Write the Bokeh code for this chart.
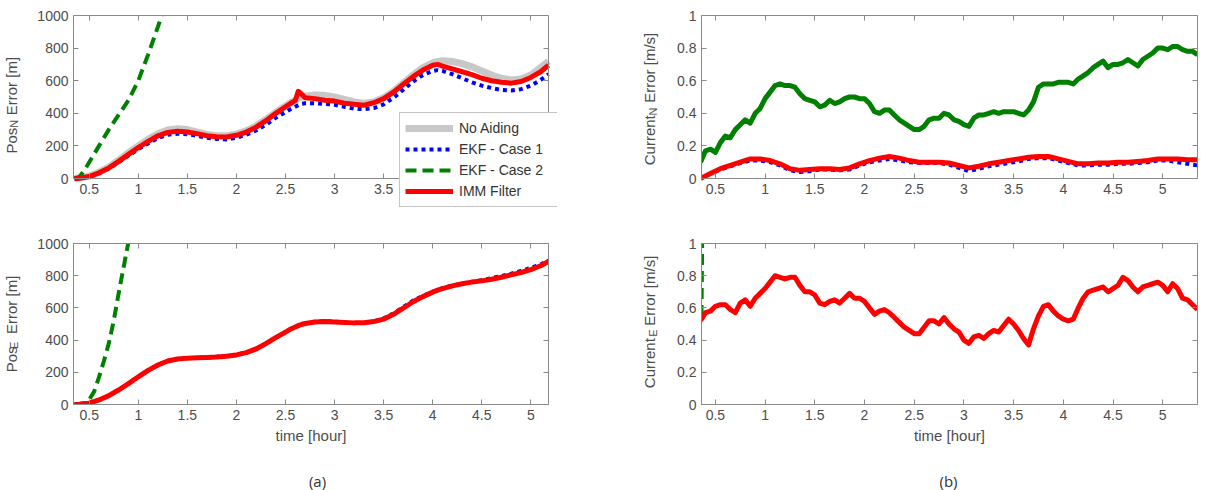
import numpy as np
from bokeh.plotting import figure
from bokeh.models import (FixedTicker, LinearAxis, Range1d, Legend, LegendItem,
                          CustomJSTickFormatter)
from bokeh.layouts import row, column
from bokeh.embed import file_html
from bokeh.resources import INLINE
from bokeh.core.properties import value

# ---------------- data ----------------
# Position error panels (a)
t_pos = [0.35, 0.4, 0.5, 0.6, 0.7, 0.8, 0.9, 1.0, 1.1, 1.2, 1.3, 1.4, 1.5, 1.6, 1.7, 1.8, 1.9,
         2.0, 2.1, 2.2, 2.3, 2.4, 2.5, 2.55, 2.6, 2.63, 2.66, 2.7, 2.8, 2.9, 3.0, 3.1, 3.2, 3.3,
         3.4, 3.5, 3.6, 3.7, 3.8, 3.9, 4.0, 4.05, 4.1, 4.2, 4.3, 4.4, 4.5, 4.6, 4.7, 4.8, 4.9,
         5.0, 5.1, 5.18]
posN_noaid = [0, 3, 14, 38, 70, 112, 158, 200, 240, 275, 298, 305, 300, 285, 270, 262, 262, 272,
              292, 322, 362, 405, 445, 465, 480, 490, 498, 505, 512, 510, 500, 485, 470, 462, 470,
              495, 535, 585, 635, 680, 710, 718, 722, 718, 705, 685, 660, 635, 615, 605, 610, 635,
              680, 720]
posN_ekf1 = [0, 2, 10, 32, 62, 100, 140, 180, 215, 248, 268, 275, 272, 262, 250, 242, 240, 250,
             268, 295, 330, 372, 408, 425, 440, 450, 458, 462, 462, 458, 452, 440, 428, 425, 432,
             455, 495, 545, 595, 635, 660, 665, 660, 640, 615, 590, 570, 555, 543, 540, 548, 570,
             605, 640]
posN_imm = [0, 2, 12, 35, 65, 105, 148, 190, 228, 262, 283, 290, 285, 275, 262, 256, 255, 265,
            285, 315, 355, 400, 440, 460, 478, 535, 520, 495, 490, 480, 475, 462, 455, 450, 465,
            490, 530, 578, 625, 665, 695, 700, 690, 672, 655, 637, 615, 600, 590, 585, 595, 620,
            655, 695]
t_posN_ekf2 = [0.35, 0.4, 0.45, 0.5, 0.6, 0.7, 0.8, 0.9, 1.0, 1.1, 1.2, 1.25, 1.3]
posN_ekf2 = [0, 10, 50, 100, 200, 300, 390, 480, 600, 760, 930, 1020, 1110]

posE_ekf1 = [0, 1, 8, 28, 55, 90, 130, 172, 212, 245, 270, 283, 288, 290, 292, 297, 302, 310,
             322, 345, 378, 415, 450, 468, 482, 490, 497, 503, 514, 518, 515, 510, 505, 506, 517,
             535, 565, 605, 645, 675, 700, 712, 722, 738, 752, 762, 772, 785, 798, 812, 830, 848,
             870, 895]
posE_imm = [0, 1, 8, 28, 55, 90, 130, 172, 212, 245, 270, 283, 288, 290, 292, 295, 300, 308,
            322, 345, 378, 415, 450, 468, 482, 490, 497, 503, 512, 515, 513, 510, 507, 508, 515,
            530, 560, 598, 638, 670, 698, 710, 720, 737, 750, 760, 768, 778, 790, 805, 820, 838,
            862, 888]
t_posE_ekf2 = [0.35, 0.4, 0.45, 0.5, 0.55, 0.6, 0.65, 0.7, 0.75, 0.8, 0.85, 0.9, 0.95]
posE_ekf2 = [0, 2, 10, 30, 80, 170, 270, 380, 520, 690, 850, 1010, 1150]

# Current error panels (b)
t_cur10 = np.round(np.arange(0.35, 5.3501, 0.1), 2)
t_cur05 = np.round(np.arange(0.35, 5.3501, 0.05), 2)
curN_imm = [0.00, 0.03, 0.06, 0.08, 0.10, 0.12, 0.12, 0.11, 0.09, 0.06,
            0.05, 0.055, 0.06, 0.06, 0.055, 0.065, 0.09, 0.11, 0.125, 0.135,
            0.125, 0.11, 0.10, 0.10, 0.10, 0.095, 0.08, 0.065, 0.075, 0.09,
            0.10, 0.11, 0.12, 0.13, 0.135, 0.135, 0.12, 0.105, 0.09, 0.09,
            0.095, 0.095, 0.10, 0.10, 0.105, 0.11, 0.12, 0.12, 0.12, 0.115, 0.115]
curN_ekf1 = [0.00, 0.03, 0.055, 0.075, 0.095, 0.11, 0.11, 0.10, 0.08, 0.05,
             0.04, 0.045, 0.055, 0.055, 0.05, 0.055, 0.08, 0.10, 0.11, 0.12,
             0.11, 0.10, 0.095, 0.095, 0.095, 0.085, 0.065, 0.045, 0.06, 0.075,
             0.085, 0.095, 0.105, 0.12, 0.125, 0.125, 0.11, 0.095, 0.08, 0.08,
             0.085, 0.085, 0.09, 0.09, 0.095, 0.10, 0.11, 0.11, 0.10, 0.09, 0.08]
curN_ekf2 = [0.10, 0.17, 0.18, 0.16, 0.22, 0.26, 0.25, 0.30, 0.33, 0.36,
             0.34, 0.40, 0.43, 0.49, 0.53, 0.57, 0.58, 0.57, 0.57, 0.56,
             0.52, 0.49, 0.48, 0.47, 0.44, 0.45, 0.48, 0.46, 0.47, 0.49,
             0.50, 0.50, 0.49, 0.49, 0.46, 0.41, 0.40, 0.42, 0.42, 0.39,
             0.36, 0.34, 0.32, 0.30, 0.30, 0.32, 0.36, 0.37, 0.37, 0.40,
             0.39, 0.36, 0.35, 0.33, 0.32, 0.37, 0.39, 0.39, 0.40, 0.41,
             0.40, 0.41, 0.41, 0.41, 0.40, 0.39, 0.42, 0.47, 0.56, 0.58,
             0.58, 0.58, 0.59, 0.59, 0.59, 0.58, 0.61, 0.63, 0.65, 0.68,
             0.70, 0.72, 0.68, 0.70, 0.70, 0.71, 0.73, 0.71, 0.69, 0.73,
             0.75, 0.77, 0.80, 0.80, 0.79, 0.81, 0.81, 0.79, 0.78, 0.78,
             0.76]
curE_imm = [0.52, 0.57, 0.58, 0.61, 0.62, 0.62, 0.59, 0.57, 0.63, 0.65,
            0.61, 0.66, 0.69, 0.72, 0.76, 0.80, 0.79, 0.78, 0.79, 0.79,
            0.74, 0.70, 0.70, 0.68, 0.63, 0.62, 0.64, 0.65, 0.63, 0.66,
            0.69, 0.66, 0.66, 0.64, 0.60, 0.56, 0.58, 0.59, 0.57, 0.54,
            0.51, 0.48, 0.46, 0.44, 0.44, 0.48, 0.52, 0.52, 0.50, 0.54,
            0.50, 0.47, 0.45, 0.40, 0.38, 0.42, 0.43, 0.41, 0.44, 0.46,
            0.45, 0.49, 0.53, 0.50, 0.46, 0.41, 0.37, 0.47, 0.55, 0.61,
            0.62, 0.58, 0.55, 0.53, 0.52, 0.53, 0.60, 0.66, 0.70, 0.71,
            0.72, 0.73, 0.70, 0.72, 0.74, 0.79, 0.77, 0.73, 0.70, 0.73,
            0.74, 0.75, 0.76, 0.74, 0.70, 0.75, 0.72, 0.66, 0.65, 0.62,
            0.59]
t_curE_ekf2 = [0.36, 0.365, 0.37, 0.375]
curE_ekf2 = [0.55, 0.9, 1.3, 1.8]

# ticks and texts
x_ticks = [0.5, 1, 1.5, 2, 2.5, 3, 3.5, 4, 4.5, 5]
x_tick_labels = ["0.5", "1", "1.5", "2", "2.5", "3", "3.5", "4", "4.5", "5"]
pos_ticks = [0, 200, 400, 600, 800, 1000]
pos_tick_labels = ["0", "200", "400", "600", "800", "1000"]
cur_ticks = [0, 0.2, 0.4, 0.6, 0.8, 1]
cur_tick_labels = ["0", "0.2", "0.4", "0.6", "0.8", "1"]

legend_labels = ["No Aiding", "EKF - Case 1", "EKF - Case 2", "IMM Filter"]
panel_tags = ["(a)", "(b)"]
x_title = "time [hour]"
NB = "\u00a0"   # non-breaking space (keeps room for the subscript)

# ---------------- styling ----------------
AX = "#8a8a8a"
TXT = "#4d4d4d"
FONT = "Liberation Sans"
GRAY, BLUE, GREEN, RED = "#c8c8c8", "#0000ff", "#008000", "#ff0000"

XL = (0.34, 5.18)      # time span of panels (a)
XR = (0.36, 5.35)      # time span of panels (b)


def make_fig(w, h, xr, yr, borders, yticks, ylabels, xbounds="auto", ybounds="auto"):
    p = figure(width=w, height=h, x_range=Range1d(*xr), y_range=Range1d(*yr),
               output_backend="svg", toolbar_location=None,
               min_border_left=borders[0], min_border_right=borders[1],
               min_border_top=borders[2], min_border_bottom=borders[3])
    p.grid.visible = False
    p.outline_line_color = AX
    p.background_fill_color = "white"
    p.border_fill_color = "white"
    for ax, ticks, labels in ((p.below[0], x_ticks, x_tick_labels),
                              (p.left[0], yticks, ylabels)):
        ax.ticker = FixedTicker(ticks=ticks)
        ax.major_label_overrides = dict(zip(ticks, labels))
        ax.major_tick_in = 5
        ax.major_tick_out = 0
        ax.minor_tick_line_color = None
        ax.axis_line_color = AX
        ax.major_tick_line_color = AX
        ax.major_label_text_font = FONT
        ax.major_label_text_font_size = "14px"
        ax.major_label_text_color = TXT
        ax.major_label_standoff = 5
    p.below[0].bounds = xbounds
    p.left[0].bounds = ybounds
    for place, ticks, bounds in (("above", x_ticks, xbounds), ("right", yticks, ybounds)):
        ax = LinearAxis(ticker=FixedTicker(ticks=ticks), bounds=bounds,
                        formatter=CustomJSTickFormatter(code="return ''"),
                        major_tick_in=5, major_tick_out=0, major_label_standoff=0,
                        major_label_text_font_size="1px", minor_tick_line_color=None,
                        axis_line_color=AX, major_tick_line_color=AX)
        p.add_layout(ax, place)
    return p


def add_ytitle(p, main, sub, rest, lead_main, trail_sub, standoff_main, standoff_sub):
    """y title 'main_sub rest': main text is the axis label of the tick axis
    (with room left for the subscript); the subscript is the label of an
    extra tick-less axis pulled back into that room."""
    ax = p.left[0]
    ax.axis_label = NB * lead_main + main + NB * 3 + rest
    ax.axis_label_standoff = standoff_main
    ax.axis_label_text_font = FONT
    ax.axis_label_text_font_size = "15px"
    ax.axis_label_text_font_style = "normal"
    ax.axis_label_text_color = TXT
    sub_ax = LinearAxis(ticker=FixedTicker(ticks=[]),
                        formatter=CustomJSTickFormatter(code="return ''"),
                        axis_line_color=None, major_tick_line_color=None,
                        minor_tick_line_color=None, major_tick_in=0, major_tick_out=0,
                        major_label_standoff=0, major_label_text_font_size="1px",
                        axis_label=sub + NB * trail_sub, axis_label_standoff=standoff_sub,
                        axis_label_text_font=FONT, axis_label_text_font_size="11px",
                        axis_label_text_font_style="normal", axis_label_text_color=TXT)
    p.add_layout(sub_ax, "left")


def add_xlabel(p):
    ax = p.below[0]
    ax.axis_label = x_title
    ax.axis_label_text_font = FONT
    ax.axis_label_text_font_size = "15px"
    ax.axis_label_text_font_style = "normal"
    ax.axis_label_text_color = TXT
    ax.axis_label_standoff = 4


# ---------------- row 1: frames run 29 px below zero and the x axes sit at zero,
# so that the legend can overlap the tick-label strip as in the original ----------
EXT = 29 / 163
xr1 = (XL[0], XL[1] + 9 * (XL[1] - XL[0]) / 476)
p1 = make_fig(600, 230, xr1, (-1000 * EXT, 1000), (72, 43, 15, 23), pos_ticks,
              pos_tick_labels, xbounds=XL, ybounds=(0, 1000))
p1.outline_line_color = None
p1.below[0].fixed_location = 0
p1.right[0].fixed_location = XL[1]
r_gray = p1.line(t_pos, posN_noaid, line_color=GRAY, line_width=7, line_join="round")
r_blue = p1.line(t_pos, posN_ekf1, line_color=BLUE, line_width=4, line_dash="4 4")
r_green = p1.line(t_posN_ekf2, posN_ekf2, line_color=GREEN, line_width=4, line_dash="11 6")
r_red = p1.line(t_pos, posN_imm, line_color=RED, line_width=5, line_join="round")
add_ytitle(p1, "Pos", "N", "Error [m]", 3, 8, 14, -19)

legend = Legend(items=[LegendItem(label=l, renderers=[r]) for l, r in
                       zip(legend_labels, [r_gray, r_blue, r_green, r_red])],
                location=(326, 0), orientation="vertical",
                glyph_width=48, glyph_height=20, label_height=20, label_width=95,
                label_standoff=6, spacing=1, padding=5, margin=0,
                label_text_font=FONT, label_text_font_size="14px", label_text_color="#333333",
                border_line_color=AX, border_line_width=1,
                background_fill_color="white", background_fill_alpha=1.0)
p1.add_layout(legend)

p2 = make_fig(606, 230, XR, (-EXT, 1), (101, 9, 15, 23), cur_ticks, cur_tick_labels,
              ybounds=(0, 1))
p2.outline_line_color = None
p2.below[0].fixed_location = 0
p2.line(t_cur10, curN_ekf1, line_color=BLUE, line_width=4, line_dash="4 4")
p2.line(t_cur05, curN_ekf2, line_color=GREEN, line_width=5, line_join="round")
p2.line(t_cur10, curN_imm, line_color=RED, line_width=5, line_join="round")
add_ytitle(p2, "Current", "N", "Error [m/s]", 6, 0, 16, -20)

# ---------------- row 2 ----------------
p3 = make_fig(600, 220, XL, (0, 1000), (72, 52, 13, 46), pos_ticks, pos_tick_labels)
p3.line(t_pos, posE_ekf1, line_color=BLUE, line_width=4, line_dash="4 4")
p3.line(t_posE_ekf2, posE_ekf2, line_color=GREEN, line_width=4, line_dash="11 6")
p3.line(t_pos, posE_imm, line_color=RED, line_width=5, line_join="round")
add_xlabel(p3)
add_ytitle(p3, "Pos", "E", "Error [m]", 0, 14, 14, -19)

p4 = make_fig(606, 220, XR, (0, 1), (101, 9, 13, 46), cur_ticks, cur_tick_labels)
p4.line(t_curE_ekf2, curE_ekf2, line_color=GREEN, line_width=4, line_dash="11 6")
p4.line(t_cur05, curE_imm, line_color=RED, line_width=5, line_join="round")
add_xlabel(p4)
add_ytitle(p4, "Current", "E", "Error [m/s]", 1, 6, 16, -20)

# ---------------- panel tags ----------------
pab = figure(width=1206, height=40, x_range=Range1d(0, 1206), y_range=Range1d(0, 40),
             output_backend="svg", toolbar_location=None, min_border=0,
             x_axis_location=None, y_axis_location=None)
pab.grid.visible = False
pab.outline_line_color = None
pab.text(x=[317, 948], y=[10, 10], text=panel_tags, text_align="center",
         text_baseline="middle", text_font=value("Open Sans"), text_font_size=value("15px"),
         text_color="#333333")

layout = column(row(p1, p2), row(p3, p4), pab)
open("out.html", "w").write(file_html(layout, INLINE))
